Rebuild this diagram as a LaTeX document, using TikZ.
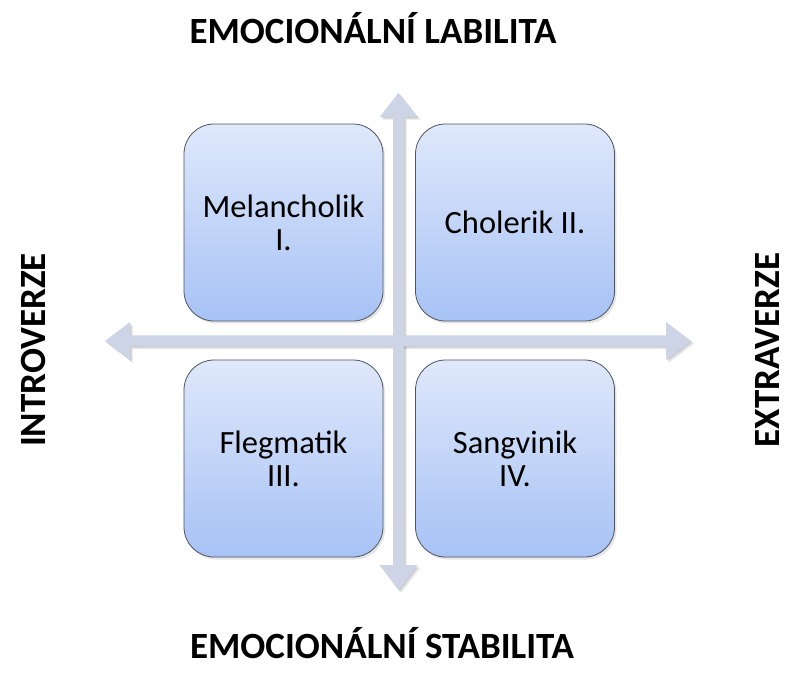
\documentclass[tikz,border=0pt]{standalone}
\usepackage{fontspec}
\setmainfont{Carlito}
\begin{document}
\begin{tikzpicture}[x=1pt,y=-1pt,
  arrowfill/.style={fill=arrowcol},
  shadowfill/.style={fill=black,opacity=0.07},
  quad/.style={draw=boxborder,line width=0.8pt,rounded corners=30pt,
    minimum width=199pt,minimum height=197pt,top color=boxtop,bottom color=boxbot,
    align=center,font=\fontsize{32.5}{33}\selectfont,inner sep=0pt},
  quadshadow/.style={fill=black,opacity=0.10,rounded corners=30pt,
    minimum width=199pt,minimum height=197pt},
  axislabel/.style={font=\fontsize{37}{40}\selectfont\bfseries,inner sep=0pt}]
\definecolor{arrowcol}{HTML}{CDD4E5}
\definecolor{boxtop}{HTML}{DFE8FB}
\definecolor{boxbot}{HTML}{A7C2F5}
\definecolor{boxborder}{HTML}{505460}
\useasboundingbox (0,0) rectangle (787,684);
\fill[white] (0,0) rectangle (787,684);
% arrow shadows
\foreach \d in {1,2,3}{
\fill[shadowfill,shift={(\d,\d)}] (398.5,93) -- (417.5,117) -- (404,117) -- (404,565) -- (417.5,565) -- (398.5,590) -- (379.5,565) -- (393,565) -- (393,117) -- (379.5,117) -- cycle;
\fill[shadowfill,shift={(\d,\d)}] (105,341) -- (130,322) -- (130,335.5) -- (666,335.5) -- (666,322) -- (691,341) -- (666,360) -- (666,346.5) -- (130,346.5) -- (130,360) -- cycle;
}
% vertical arrow
\fill[arrowfill] (398.5,93) -- (417.5,117) -- (404,117) -- (404,565) -- (417.5,565) -- (398.5,590) -- (379.5,565) -- (393,565) -- (393,117) -- (379.5,117) -- cycle;
% horizontal arrow
\fill[arrowfill] (105,341) -- (130,322) -- (130,335.5) -- (666,335.5) -- (666,322) -- (691,341) -- (666,360) -- (666,346.5) -- (130,346.5) -- (130,360) -- cycle;
% box shadows
\node[quadshadow] at (285.5,225) {};
\node[quadshadow] at (517,225) {};
\node[quadshadow] at (285.5,461) {};
\node[quadshadow] at (517,461) {};
% boxes
\node[quad] (mel) at (283.5,222.5) {Melancholik\\I.};
\node[quad] (cho) at (515,222.5) {Cholerik II.};
\node[quad] (fle) at (283.5,458.5) {Flegmatik\\III.};
\node[quad] (san) at (515,458.5) {Sangvinik\\IV.};
% axis labels
\node[axislabel,anchor=base] (lab) at (373,44) {EMOCIONÁLNÍ LABILITA};
\node[axislabel,anchor=base] (sta) at (382,658) {EMOCIONÁLNÍ STABILITA};
\node[axislabel,anchor=base,rotate=90] (intro) at (45,350) {INTROVERZE};
\node[axislabel,anchor=base,rotate=90] (extra) at (779,350) {EXTRAVERZE};
\end{tikzpicture}
\end{document}
